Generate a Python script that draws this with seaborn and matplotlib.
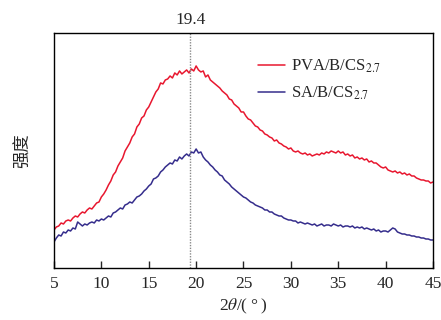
import numpy as np
import pandas as pd
import matplotlib
matplotlib.use("Agg")
import matplotlib.pyplot as plt
import seaborn as sns

# 2theta grid (deg), 0.25 step
two_theta = np.arange(5.0, 45.01, 0.25)

# intensity (arb. units)
pva_b_cs = [
    38, 41, 42, 45, 44, 47, 48, 47, 50, 52, 51, 54, 56, 55, 58, 60,
    59, 62, 65, 66, 71, 74, 78, 83, 87, 93, 96, 102, 106, 110, 117, 121,
    125, 131, 134, 141, 144, 150, 152, 158, 161, 166, 171, 176, 179, 185, 184, 188,
    189, 192, 190, 195, 193, 197, 194, 196, 198, 195, 199, 197, 202, 198, 196, 197,
    191, 193, 188, 186, 184, 182, 180, 177, 175, 173, 169, 168, 164, 162, 160, 156,
    156, 152, 149, 148, 145, 142, 141, 138, 137, 134, 133, 131, 130, 127, 128, 125,
    124, 122, 121, 119, 120, 117, 116, 117, 115, 114, 115, 113, 114, 112, 113, 114,
    113, 115, 114, 116, 115, 117, 116, 115, 117, 115, 116, 113, 114, 112, 113, 110,
    111, 109, 110, 108, 109, 106, 107, 105, 105, 103, 101, 100, 101, 98, 97, 96,
    97, 95, 96, 94, 95, 93, 94, 92, 92, 90, 89, 88, 88, 87, 87, 85,
    86,
]
sa_b_cs = [
    26, 30, 33, 32, 36, 35, 38, 37, 40, 39, 46, 44, 42, 44, 43, 45,
    46, 45, 48, 47, 49, 48, 50, 52, 51, 55, 56, 58, 60, 59, 63, 64,
    66, 65, 68, 71, 72, 74, 77, 79, 82, 84, 89, 90, 92, 96, 98, 101,
    103, 105, 104, 108, 107, 111, 109, 112, 114, 112, 116, 115, 119, 115, 116, 111,
    108, 106, 103, 101, 98, 96, 93, 92, 88, 86, 84, 81, 79, 77, 75, 73,
    71, 70, 68, 66, 65, 63, 62, 61, 60, 58, 58, 56, 56, 54, 53, 52,
    52, 50, 49, 48, 48, 47, 47, 45, 46, 45, 44, 45, 44, 43, 44, 42,
    43, 44, 42, 43, 43, 42, 44, 43, 42, 43, 41, 42, 42, 41, 42, 40,
    41, 40, 41, 39, 40, 39, 38, 39, 37, 38, 36, 37, 37, 36, 38, 40,
    39, 36, 35, 34, 34, 33, 33, 32, 32, 31, 31, 30, 30, 29, 29, 28,
    28,
]
labels = ["PVA/B/CS$_{2.7}$", "SA/B/CS$_{2.7}$"]
colors = ["#e8172f", "#352d8c"]
peak = 19.4

df = pd.concat([
    pd.DataFrame({"x": two_theta, "y": pva_b_cs, "sample": labels[0]}),
    pd.DataFrame({"x": two_theta, "y": sa_b_cs, "sample": labels[1]}),
])

sns.set_style("ticks")
plt.rcParams["font.family"] = ["Liberation Serif", "Noto Sans CJK SC", "DejaVu Sans"]
plt.rcParams["mathtext.fontset"] = "stix"

fig = plt.figure(figsize=(4.41, 3.2), dpi=100)
ax = fig.add_axes([0.1224, 0.1625, 0.8595, 0.7345])

sns.lineplot(data=df, x="x", y="y", hue="sample", palette=colors,
             linewidth=1.1, ax=ax)

ax.axvline(peak, color="#8a8a8a", linestyle=(0, (1, 1)), linewidth=1.0)
ax.text(peak, 1.02, "19.4", transform=ax.get_xaxis_transform(),
        ha="center", va="bottom", fontsize=12.5)

ax.set_xlim(5, 45)
ax.set_ylim(0, 235)
ax.set_xticks(range(5, 46, 5))
ax.set_yticks([])
ax.tick_params(axis="x", direction="in", length=5, width=1, labelsize=12.5, pad=6)
ax.set_xlabel("2$\\theta$/(\u2009°\u2009)", fontsize=12.5, labelpad=3)
ax.set_ylabel("强度", fontsize=12.5, family=["Noto Sans CJK SC"], labelpad=16)
for s in ax.spines.values():
    s.set_linewidth(1.0)
    s.set_color("black")

ax.legend(loc="upper left", bbox_to_anchor=(0.538, 0.895), frameon=False,
          borderpad=0, borderaxespad=0, fontsize=12, handlelength=1.6,
          handletextpad=0.4, labelspacing=0.6)

fig.savefig("out.png", dpi=100)
